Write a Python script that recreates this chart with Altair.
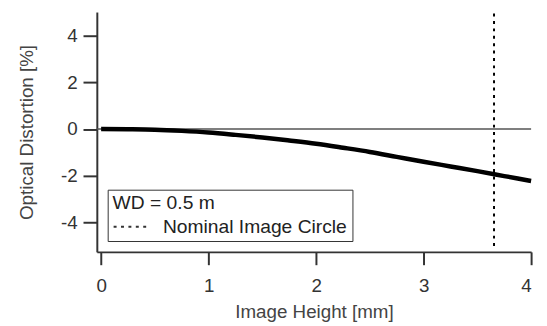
import altair as alt
import pandas as pd

# Distortion curve
image_height = [0.0, 0.25, 0.5, 0.75, 1.0, 1.25, 1.5, 1.75, 2.0, 2.25, 2.5, 2.75, 3.0, 3.25, 3.5, 3.75, 4.0]
distortion = [0.0, -0.01, -0.03, -0.08, -0.15, -0.25, -0.36, -0.49, -0.63, -0.80, -0.98, -1.19, -1.40, -1.60, -1.80, -2.01, -2.22]

nominal_circle_x = [3.655]
nominal_label = ["Nominal Image Circle"]
rule_y_range = [-5.0, 5.0]
legend_title = "WD = 0.5 m"

x_ticks = [0, 1, 2, 3, 4]
y_ticks = [-4, -2, 0, 2, 4]

FONT = "Liberation Sans"
FS = 19
LFS = 19.5

curve_df = pd.DataFrame({"x": image_height, "y": distortion})
nom_df = pd.DataFrame({"x": nominal_circle_x, "y": [rule_y_range[0]], "y2": [rule_y_range[1]], "lab": nominal_label})
zero_df = pd.DataFrame({"y": [0.0]})

xscale = alt.Scale(domain=[-0.04, 4], nice=False, zero=False)
yscale = alt.Scale(domain=[-5.25, 5], nice=False, zero=False)

xaxis = alt.Axis(values=x_ticks, title="Image Height [mm]", grid=False,
                 labelExpr="toString(datum.value)",
                 tickSize=13, tickWidth=2, tickColor="#333", domainColor="#333", domainWidth=2,
                 labelFont=FONT, labelFontSize=FS, labelColor="#333", labelPadding=12,
                 titleFont=FONT, titleFontSize=FS, titleFontWeight="normal", titleColor="#444", titlePadding=7)
yaxis = alt.Axis(values=y_ticks, title="Optical Distortion [%]", grid=False,
                 labelExpr="toString(datum.value)",
                 tickSize=14, tickWidth=2, tickColor="#333", domainColor="#333", domainWidth=2,
                 labelFont=FONT, labelFontSize=FS, labelColor="#333", labelPadding=6,
                 titleFont=FONT, titleFontSize=FS, titleFontWeight="normal", titleColor="#444", titlePadding=24)

zero = alt.Chart(zero_df).mark_rule(color="#555", strokeWidth=1.5).encode(
    y=alt.Y("y:Q", scale=yscale, axis=yaxis)
)

curve = alt.Chart(curve_df).mark_line(color="black", strokeWidth=4.5, interpolate="monotone").encode(
    x=alt.X("x:Q", scale=xscale, axis=xaxis),
    y=alt.Y("y:Q", scale=yscale, axis=yaxis),
)

nominal = alt.Chart(nom_df).mark_rule(color="black", strokeWidth=2).encode(
    x=alt.X("x:Q", scale=xscale, axis=xaxis),
    y=alt.Y("y:Q", scale=yscale, axis=yaxis),
    y2="y2:Q",
    strokeDash=alt.StrokeDash("lab:N", scale=alt.Scale(domain=nominal_label, range=[[3, 4.5]]),
                              legend=alt.Legend(title=legend_title, orient="none", legendX=11, legendY=180,
                                                symbolType="M-1,0H2", symbolSize=576, symbolStrokeWidth=2,
                                                symbolStrokeColor="#333", symbolFillColor="transparent",
                                                labelOffset=25,
                                                labelFont=FONT, labelFontSize=LFS, labelColor="#222",
                                                titleFont=FONT, titleFontSize=LFS, titleFontWeight="normal",
                                                titleColor="#222", titlePadding=0, padding=5,
                                                strokeColor="#333", labelLimit=400)),
)

chart = alt.layer(zero, curve, nominal).properties(
    width=440, height=243,
    autosize=alt.AutoSizeParams(type="none"),
    padding={"left": 90, "top": 2, "right": 8, "bottom": 72},
).configure_view(stroke=None)

chart.save("out.html", embed_options={"renderer": "svg", "actions": False})
